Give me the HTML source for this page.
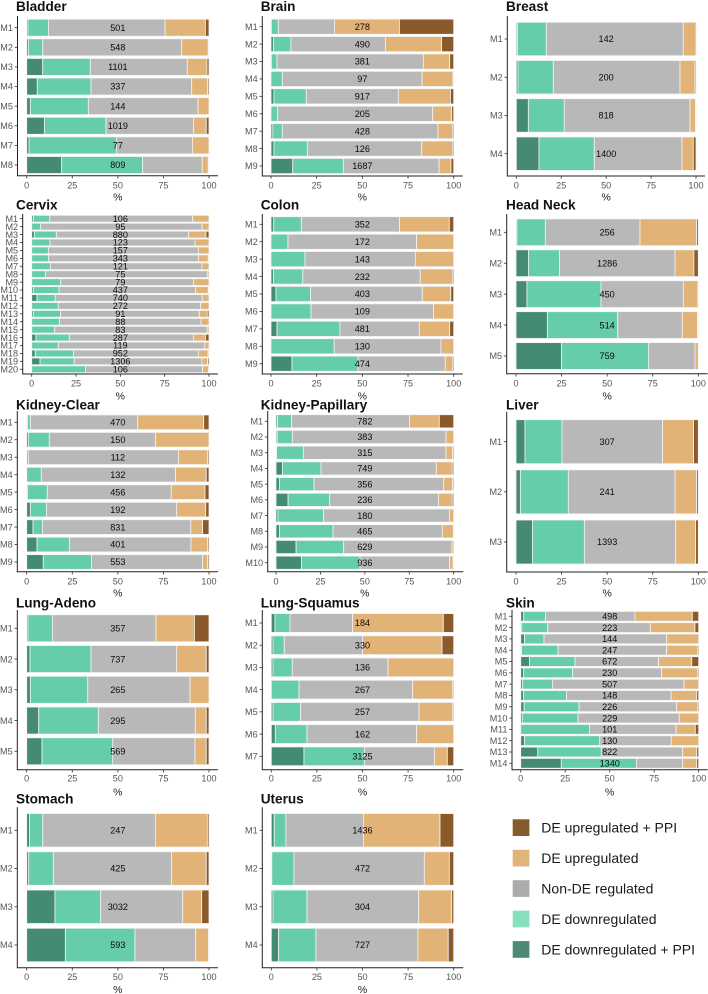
<!DOCTYPE html>
<html lang="en">
<head>
<meta charset="utf-8">
<title>Regulation shares by cancer type</title>
<style>
html,body{margin:0;padding:0;background:#fff;}
svg{display:block;font-family:"Liberation Sans",sans-serif;}
</style>
</head>
<body>
<svg id="chart" width="708" height="994" viewBox="0 0 708 994" xmlns="http://www.w3.org/2000/svg"></svg>
<script>
const seriesNames = ['DE downregulated + PPI', 'DE downregulated', 'Non-DE regulated', 'DE upregulated', 'DE upregulated + PPI'];
const tickLabels = [0, 25, 50, 75, 100];

const bladderCounts = [501, 548, 1101, 337, 144, 1019, 77, 809];
const bladderShares = [[0.7,11.2,64,22.1,2],[0.9,7.9,76.2,14.6,0.4],[8.8,26.1,53.2,10.8,1.1],[5.8,29.5,55.2,8.8,0.7],[2,31.8,60.2,6,0],[9.7,33.8,48.1,6.9,1.5],[1.3,47.9,41.7,9.1,0],[19.2,44.4,32.7,3.3,0.4]];
const brainCounts = [278, 490, 381, 97, 917, 205, 428, 126, 1687];
const brainShares = [[0.2,3.8,30.7,35.6,29.7],[1.3,9.6,51.7,30.8,6.6],[0.2,3.1,80.1,14.4,2.2],[0,6.2,76.5,16.9,0.4],[1.6,17.7,50.4,28.5,1.8],[0,3.5,85,10.4,1.1],[1,5.2,85.2,7.9,0.7],[1.6,18.3,62.6,16.8,0.7],[11.9,27.7,52.4,6.5,1.5]];
const breastCounts = [142, 200, 818, 1400];
const breastShares = [[0.7,16,76.2,7.1,0],[0.9,19.7,70.5,8.3,0.6],[6.7,20,70,3,0.3],[12.6,30.8,48.8,6.3,1.5]];
const cervixCounts = [106, 95, 880, 123, 157, 343, 121, 75, 79, 437, 740, 272, 91, 88, 83, 287, 119, 952, 1306, 106];
const cervixShares = [[0.9,9.3,80.6,9.2,0],[0,4.9,91.2,3.9,0],[1.5,12.4,74.6,9.8,1.7],[0,10.3,81.8,7.9,0],[0,9.4,84.6,6,0],[0,9.6,84.4,5.6,0.4],[0,10.5,85.5,4,0],[0,7.7,91.3,1,0],[0,16.4,75,8.6,0],[0.9,14.5,77.1,7.1,0.4],[3,10.3,82.9,3.8,0],[0,15,80.3,4.7,0],[0.9,15.3,78.3,4.5,1],[0,15.6,79.9,4.5,0],[0,13,86,1,0],[2.4,18.8,70,6.8,2],[0,15,82.6,2.4,0],[2,21.5,70.5,5.5,0.5],[4.7,19.3,72,3.2,0.8],[0,30.3,66.1,3.4,0.2]];
const colonCounts = [352, 172, 143, 232, 403, 109, 481, 130, 474];
const colonShares = [[1.5,15.1,53.8,27.2,2.4],[0,9.3,70.4,20.3,0],[0,18.6,60.4,21,0],[1.3,16.1,64.3,17.6,0.7],[2.7,18.9,61.2,15.6,1.6],[0,21.9,67.1,11,0],[3.3,34.4,43.5,16.6,2.2],[0,34.6,58.4,7,0],[11.5,36.2,47.7,3.9,0.7]];
const headNeckCounts = [256, 1286, 450, 514, 759];
const headNeckShares = [[0.5,15.6,51.9,31.1,0.9],[6.8,17,63.4,10.4,2.4],[6,40.6,45.2,7.7,0.5],[17.2,38.6,35.4,8.4,0.4],[25,47.8,25.4,1.8,0]];
const kidneyClearCounts = [470, 150, 112, 132, 456, 192, 831, 401, 553];
const kidneyClearShares = [[0.5,1.5,58.9,36.2,2.9],[0.9,11.5,58.3,29.3,0],[0,0.9,82.3,16.1,0.7],[0,8,73.7,16.8,1.5],[0.4,10.9,68,18.5,2.2],[2,8.8,71.5,15.9,1.8],[3.5,5.1,81.4,6.5,3.5],[5.7,17.7,66.7,9.2,0.7],[9.1,26.4,61,2.8,0.7]];
const kidneyPapillaryCounts = [782, 383, 315, 749, 356, 236, 180, 465, 629, 936];
const kidneyPapillaryShares = [[0.9,7.9,66.4,16.7,8.1],[0.7,8.5,86.5,4.3,0],[0.3,15.1,80.3,3.7,0.6],[3.6,21.7,64.9,9,0.8],[1.9,19.5,73,5,0.6],[6.8,23.4,61.2,7.8,0.8],[1.1,25.7,70.8,2.4,0],[1.9,30.2,61.5,6.2,0.4],[11.3,26.8,60.9,1,0],[14.4,32.9,50.4,2,0.3]];
const liverCounts = [307, 241, 1393];
const liverShares = [[4.9,20.3,55.2,17,2.6],[2.4,26.3,58.5,11.9,0.9],[9,28.5,50.1,10.9,1.5]];
const lungAdenoCounts = [357, 737, 265, 295, 569];
const lungAdenoShares = [[0.7,13.4,56.8,21.1,8],[1.8,33.5,47,16.2,1.5],[2,31.5,56.1,10.4,0],[6.6,32.7,53.2,6,1.5],[8.4,38.8,45.1,6.2,1.5]];
const lungSquamusCounts = [184, 330, 136, 267, 257, 162, 3125];
const lungSquamusShares = [[2,8.2,34.4,49.7,5.7],[0.9,6.2,43,43.5,6.4],[0.9,10.6,52.5,36,0],[0,15.2,62.3,22,0.5],[0.9,15.2,64.9,18.5,0.5],[2.2,17.4,60.1,20.3,0],[17.9,33.1,38.4,7.1,3.5]];
const skinCounts = [498, 223, 144, 247, 672, 230, 507, 148, 226, 229, 101, 130, 822, 1340];
const skinShares = [[1.7,12.2,50.3,32.2,3.6],[0.6,14.6,57.6,25.1,2.1],[2.1,11,68.9,18,0],[0.5,20.5,61,17.3,0.7],[4.9,25.6,47,18.6,3.9],[1.7,27.5,50,20.1,0.7],[1.1,16.7,74,8.2,0],[1.5,24.2,58.8,14.4,1.1],[1.9,30.9,54.8,11.7,0.7],[0.9,31.3,56.9,10.9,0],[0,38.6,48.7,10.8,1.9],[2.2,42.2,40.2,15.4,0],[9.6,35.7,45.7,7.9,1.1],[22.8,42.2,26,7.9,1.1]];
const stomachCounts = [247, 425, 3032, 593];
const stomachShares = [[1.5,7.3,61.8,28.5,0.9],[1.1,13.5,64.9,19,1.5],[15.5,25.1,45,10.4,4],[21.2,38.2,33.3,7,0.3]];
const uterusCounts = [1436, 472, 304, 727];
const uterusShares = [[1.6,6.4,42.5,42,7.5],[0.3,12.1,71.5,13.7,2.4],[0.9,18.7,61.2,18.1,1.1],[4,20.5,55.9,16.6,3]];

/* Layout only: frame geometry of each panel, separate from the data above. */
const seriesColors = ['#458b74', '#66cdaa', '#b8b8b8', '#e2b377', '#8b5a2b'];
const legendColors = ['#4b8b74', '#88dfbd', '#ababab', '#e0b47a', '#855a2d'];
const panels = [
  {title:'Bladder', counts:bladderCounts, shares:bladderShares, ax:17.5, x0:26.7, x1:209, xr:218, top:16, bot:175.7, y0:27.7, yn:165, bh:17, tx:16, ty:10.8, tickY:185, pctY:197},
  {title:'Brain', counts:brainCounts, shares:brainShares, ax:262.3, x0:271, x1:453.7, xr:462.7, top:16, bot:176, y0:26.7, yn:166, bh:15.2, tx:260.7, ty:10.8, tickY:185, pctY:197},
  {title:'Breast', counts:breastCounts, shares:breastShares, ax:507.3, x0:516.3, x1:696, xr:705, top:16, bot:176, y0:39, yn:153.7, bh:33.5, tx:506, ty:10.8, tickY:185, pctY:197},
  {title:'Cervix', counts:cervixCounts, shares:cervixShares, ax:22.7, x0:31.7, x1:209, xr:218, top:214, bot:374, y0:218.7, yn:369.3, bh:6.8, tx:16, ty:209.3, tickY:383, pctY:396},
  {title:'Colon', counts:colonCounts, shares:colonShares, ax:262.3, x0:271, x1:453.7, xr:462.7, top:214, bot:374, y0:224.3, yn:363.7, bh:15.2, tx:260.7, ty:209.3, tickY:383, pctY:396},
  {title:'Head Neck', counts:headNeckCounts, shares:headNeckShares, ax:506.7, x0:516, x1:698.3, xr:707.7, top:214, bot:373.7, y0:232.3, yn:356, bh:26.8, tx:506, ty:209.3, tickY:383, pctY:396},
  {title:'Kidney-Clear', counts:kidneyClearCounts, shares:kidneyClearShares, ax:17.3, x0:26.7, x1:209, xr:218, top:411, bot:571.7, y0:422.3, yn:562, bh:14.7, tx:16, ty:409.3, tickY:581, pctY:593},
  {title:'Kidney-Papillary', counts:kidneyPapillaryCounts, shares:kidneyPapillaryShares, ax:267.7, x0:276, x1:453.7, xr:463.3, top:411, bot:571.7, y0:421.3, yn:562.7, bh:13.2, tx:260.7, ty:409.3, tickY:581, pctY:593},
  {title:'Liver', counts:liverCounts, shares:liverShares, ax:506.7, x0:516, x1:698.3, xr:707.7, top:411.7, bot:572, y0:441.7, yn:542, bh:44, tx:506, ty:409.3, tickY:581, pctY:593},
  {title:'Lung-Adeno', counts:lungAdenoCounts, shares:lungAdenoShares, ax:17.3, x0:26.7, x1:209, xr:218, top:610, bot:769.7, y0:628.3, yn:751.3, bh:27, tx:16, ty:607.7, tickY:778.3, pctY:791.7},
  {title:'Lung-Squamus', counts:lungSquamusCounts, shares:lungSquamusShares, ax:262.3, x0:271.3, x1:453.7, xr:463.3, top:610, bot:769.7, y0:623, yn:756.3, bh:18.8, tx:260.7, ty:607.7, tickY:778.3, pctY:791.7},
  {title:'Skin', counts:skinCounts, shares:skinShares, ax:512, x0:520.7, x1:698.7, xr:707.7, top:610, bot:769.7, y0:616.3, yn:763.3, bh:9.8, tx:506, ty:607.7, tickY:778.3, pctY:791.7},
  {title:'Stomach', counts:stomachCounts, shares:stomachShares, ax:17.3, x0:26.7, x1:209, xr:218, top:807.3, bot:967.7, y0:830.3, yn:945, bh:33.5, tx:16, ty:803.3, tickY:976.7, pctY:989.3},
  {title:'Uterus', counts:uterusCounts, shares:uterusShares, ax:262.3, x0:271.3, x1:453.7, xr:463.3, top:807.3, bot:967.7, y0:830.3, yn:945, bh:33.5, tx:260.7, ty:803.3, tickY:976.7, pctY:989.3}
];

const NS = 'http://www.w3.org/2000/svg';
const root = document.getElementById('chart');

function make(tag, parent, attrs, text) {
  const el = document.createElementNS(NS, tag);
  for (const k in attrs) el.setAttribute(k, attrs[k]);
  if (text !== undefined) el.textContent = text;
  parent.appendChild(el);
  return el;
}

panels.forEach(function (p) {
  const slug = p.title.toLowerCase().replace(/[^a-z]+/g, '-');
  const xScale = function (v) { return p.x0 + (p.x1 - p.x0) * v / 100; };
  const rows = p.counts.length;
  const yScale = function (i) { return rows > 1 ? p.y0 + (p.yn - p.y0) * i / (rows - 1) : p.y0; };

  const g = make('g', root, {});
  
  

  const title = make('text', g, {x: p.tx, y: p.ty, 'font-size': 13.6, 'font-weight': 'bold', fill: '#111'}, p.title);
  
  

  p.shares.forEach(function (row, i) {
    let cum = 0;
    const yc = yScale(i);
    row.forEach(function (v, s) {
      if (v > 0) {
        const rect = make('rect', g, {
          x: xScale(cum), y: yc - p.bh / 2,
          width: xScale(cum + v) - xScale(cum), height: p.bh,
          fill: seriesColors[s], stroke: '#f4f4f4', 'stroke-width': 0.8
        });
        
        
      }
      cum += v;
    });
  });

  p.counts.forEach(function (c, i) {
    const yc = yScale(i);
    const count = make('text', g, {x: xScale(50), y: yc + 3.2, 'font-size': 9.1, 'text-anchor': 'middle', fill: '#0a0a0a'}, String(c));
    
    

    const tick = make('line', g, {x1: p.ax - 2.8, x2: p.ax, y1: yc, y2: yc, stroke: '#333', 'stroke-width': 0.8});
    
    

    const lab = make('text', g, {x: p.ax - 4.6, y: yc + 3.2, 'font-size': 9.1, 'text-anchor': 'end', fill: '#555'}, 'M' + (i + 1));
    
    
  });

  tickLabels.forEach(function (t) {
    const tx = xScale(t);
    const tick = make('line', g, {x1: tx, x2: tx, y1: p.bot, y2: p.bot + 2.8, stroke: '#333', 'stroke-width': 0.8});
    
    

    const lab = make('text', g, {x: tx, y: p.tickY + 3.3, 'font-size': 9.1, 'text-anchor': 'middle', fill: '#555'}, String(t));
    
    
  });

  const yAxis = make('line', g, {x1: p.ax, x2: p.ax, y1: p.top, y2: p.bot + 0.5, stroke: '#222', 'stroke-width': 1});
  
  

  const xAxis = make('line', g, {x1: p.ax, x2: p.xr, y1: p.bot, y2: p.bot, stroke: '#222', 'stroke-width': 1});
  
  

  const pct = make('text', g, {x: xScale(50), y: p.pctY + 3.7, 'font-size': 10.5, 'text-anchor': 'middle', fill: '#222'}, '%');
  
  
});

const legend = make('g', root, {});


for (let s = seriesNames.length - 1, row = 0; s >= 0; s--, row++) {
  const top = 819.3 + row * 30.45;
  const swatch = make('rect', legend, {x: 512.7, y: top, width: 16.7, height: 16.7, fill: legendColors[s]});
  
  
  const label = make('text', legend, {x: 541.3, y: top + 13.3, 'font-size': 14, fill: '#1a1a1a'}, seriesNames[s]);
  
  
}
</script>
</body>
</html>
